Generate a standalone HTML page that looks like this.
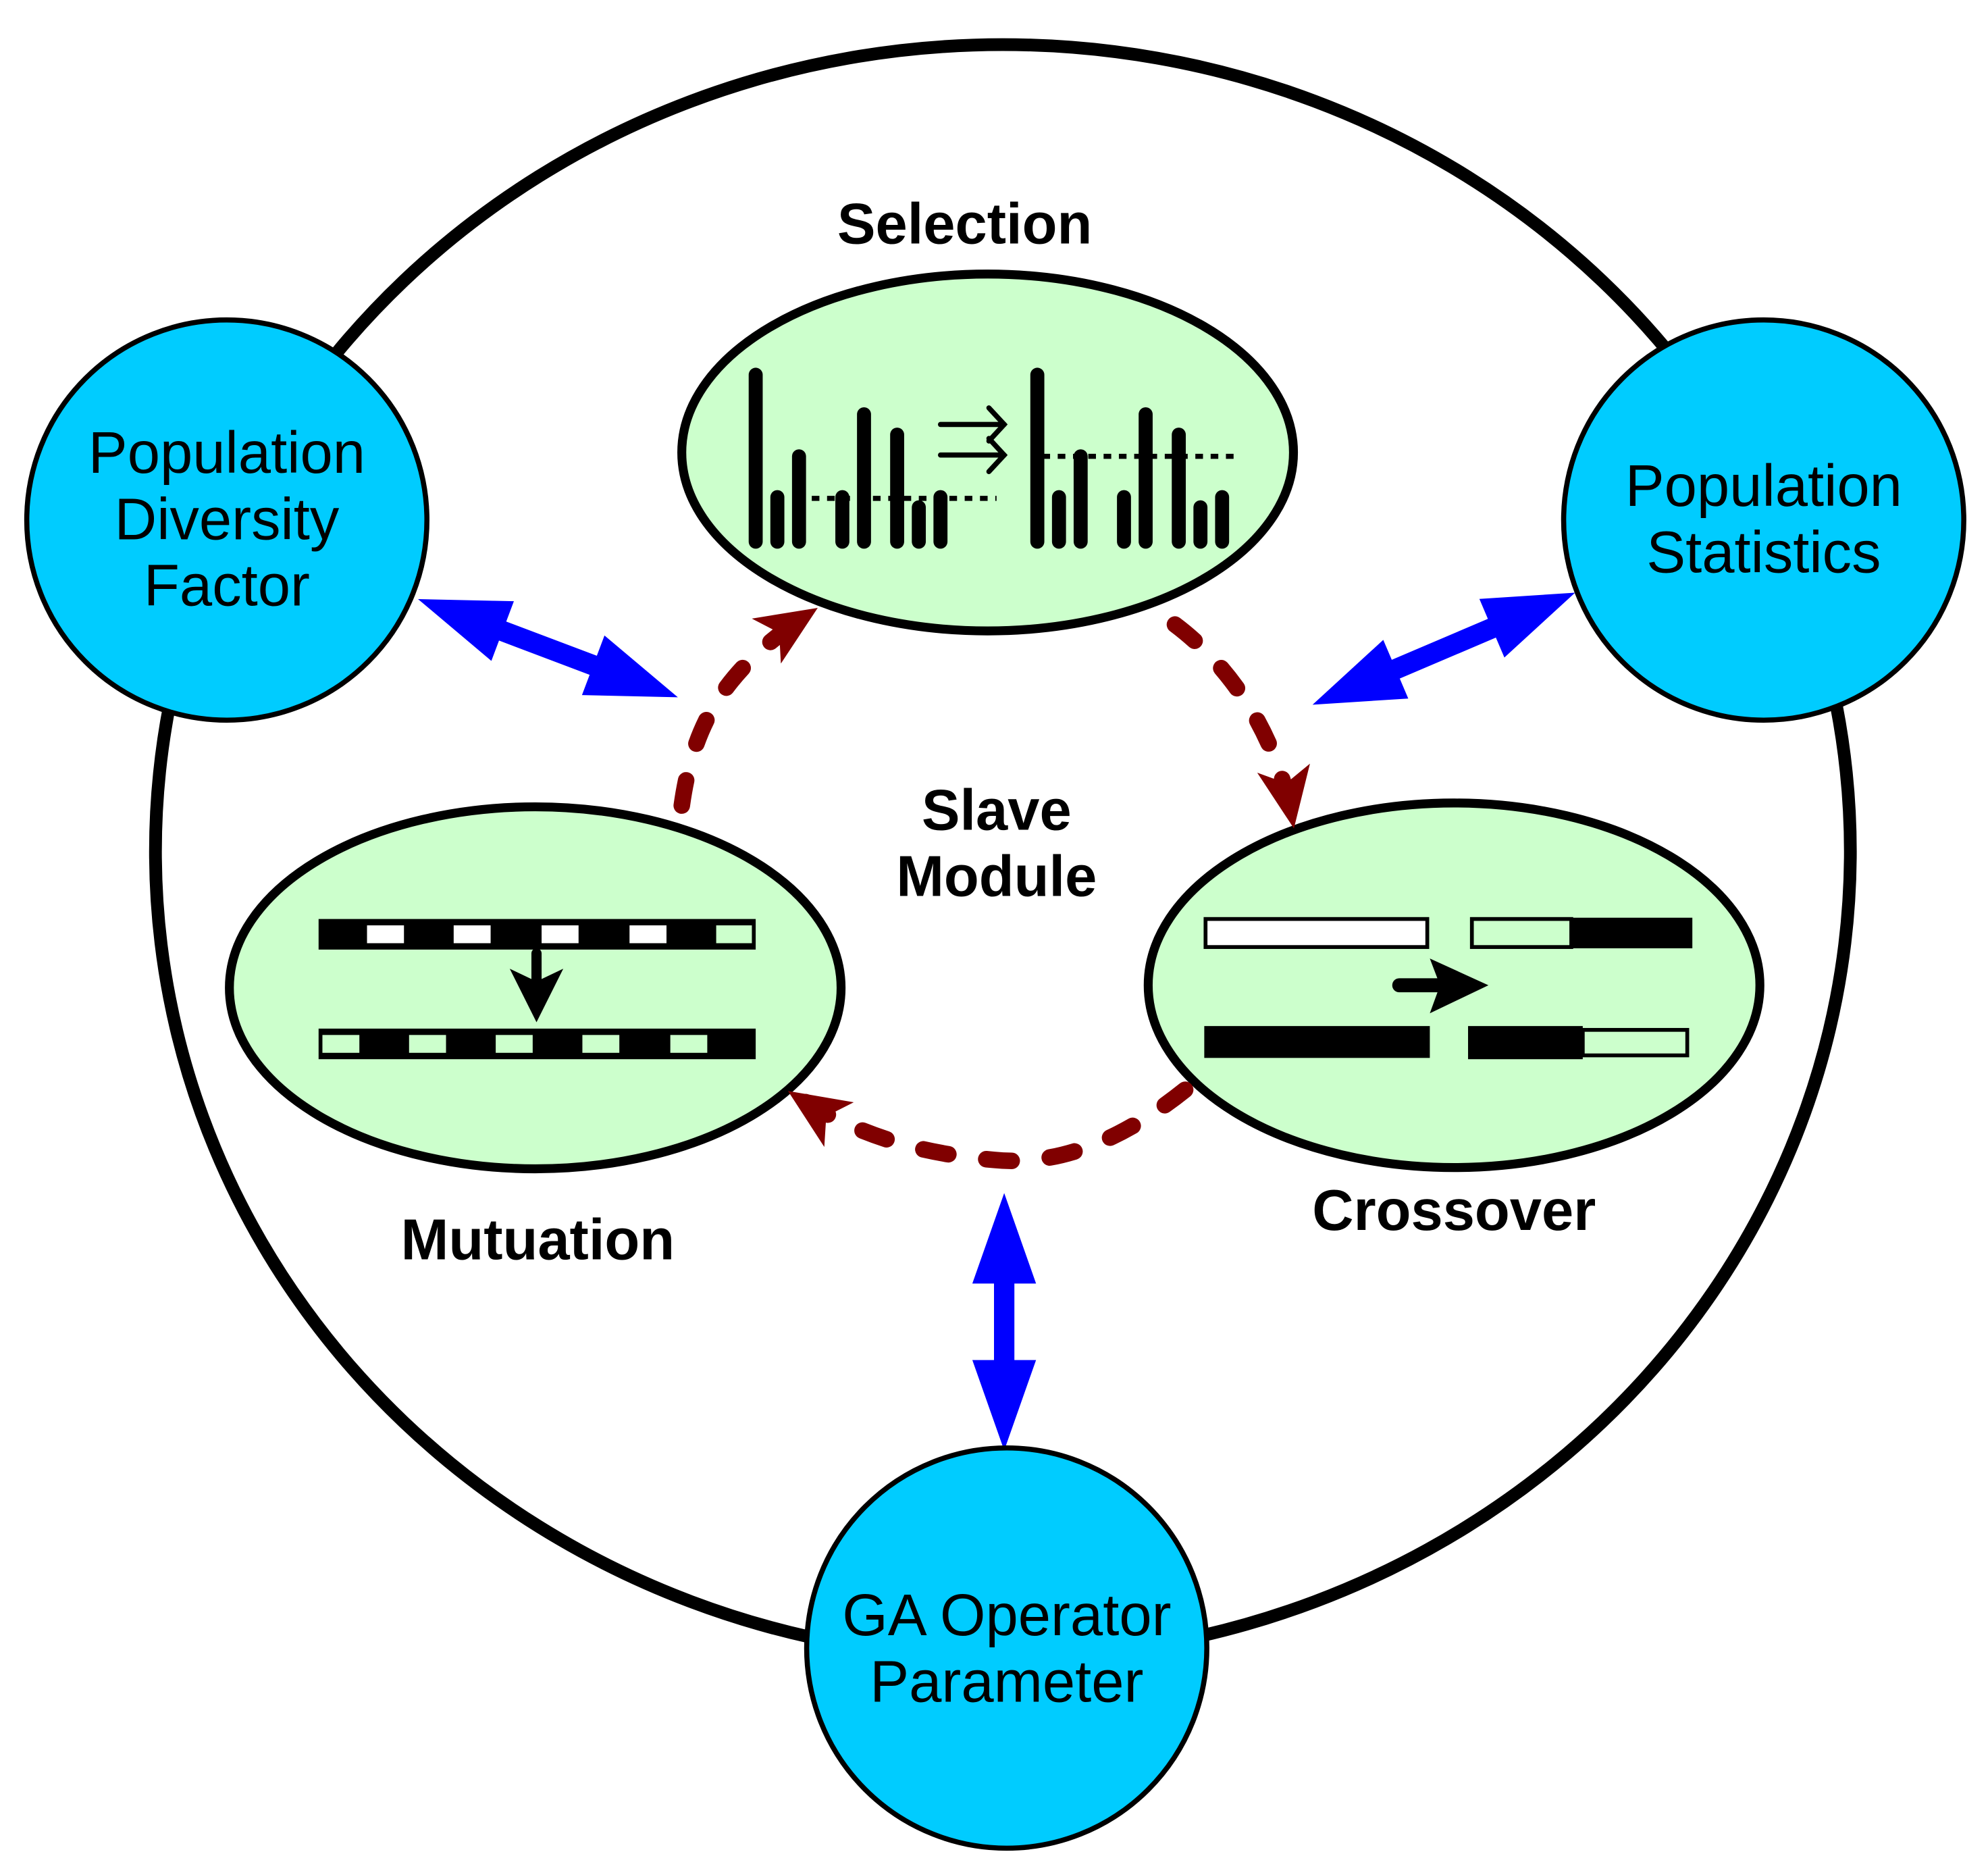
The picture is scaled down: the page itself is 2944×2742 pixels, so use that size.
<!DOCTYPE html>
<html><head><meta charset="utf-8"><style>
html,body{margin:0;padding:0;background:#fff;}
svg{display:block;}
text{font-family:"Liberation Sans",sans-serif;}
</style></head><body>
<svg width="2944" height="2742" viewBox="0 0 1560 1453" preserveAspectRatio="none" xmlns="http://www.w3.org/2000/svg">
<defs>
<marker id="rh" markerUnits="userSpaceOnUse" viewBox="0 -24 50 48" refX="46" refY="0" markerWidth="50" markerHeight="48" orient="auto">
<path d="M0,-21 L48,0 L0,21 L12,0 Z" fill="#800000"/>
</marker>
</defs>
<rect width="1560" height="1453" fill="#fff"/>
<ellipse cx="787" cy="668" rx="665" ry="633" fill="none" stroke="#000" stroke-width="10"/>

<g fill="#0000ff">
<polygon transform="translate(328,470) rotate(20.7)" points="0,0 71,-25 71,-8 147,-8 147,-25 218,0 147,25 147,8 71,8 71,25"/>
<polygon transform="translate(1236,465) rotate(156.9)" points="0,0 71,-25 71,-8 153,-8 153,-25 224,0 153,25 153,8 71,8 71,25"/>
<polygon transform="translate(788,936) rotate(90)" points="0,0 71,-25 71,-8 131,-8 131,-25 202,0 131,25 131,8 71,8 71,25"/>
</g>

<g fill="#00ccff" stroke="#000" stroke-width="4">
<circle cx="178" cy="408" r="157"/>
<circle cx="1384" cy="408" r="157"/>
<circle cx="790" cy="1293" r="157"/>
</g>
<g font-size="46" text-anchor="middle" fill="#000">
<text x="178" y="371">Population</text>
<text x="178" y="423">Diversity</text>
<text x="178" y="475">Factor</text>
<text x="1384" y="397">Population</text>
<text x="1384" y="449">Statistics</text>
<text x="790" y="1283">GA Operator</text>
<text x="790" y="1335">Parameter</text>
</g>

<g fill="#ccffcc" stroke="#000" stroke-width="7">
<ellipse cx="775" cy="355" rx="240" ry="140"/>
<ellipse cx="420" cy="775" rx="240" ry="142"/>
<ellipse cx="1141" cy="773" rx="240" ry="143"/>
</g>

<g fill="none" stroke="#800000" stroke-width="13" stroke-linecap="round" stroke-dasharray="20 30">
<path d="M535,632 C545,560 575,520 640,478" marker-end="url(#rh)"/>
<path d="M922,490 C962,520 1002,572 1015,648" marker-end="url(#rh)"/>
<path d="M930,855 C880,895 830,915 780,910 C720,905 670,890 620,857" marker-end="url(#rh)"/>
</g>

<g stroke="#000" stroke-width="11" stroke-linecap="round">
<line x1="593" y1="294" x2="593" y2="425"/>
<line x1="610" y1="390" x2="610" y2="425"/>
<line x1="627" y1="358" x2="627" y2="425"/>
<line x1="661" y1="390" x2="661" y2="425"/>
<line x1="678" y1="325" x2="678" y2="425"/>
<line x1="704" y1="341" x2="704" y2="425"/>
<line x1="721" y1="398" x2="721" y2="425"/>
<line x1="738" y1="390" x2="738" y2="425"/>
<line x1="814" y1="294" x2="814" y2="425"/>
<line x1="831" y1="390" x2="831" y2="425"/>
<line x1="848" y1="358" x2="848" y2="425"/>
<line x1="882" y1="390" x2="882" y2="425"/>
<line x1="899" y1="325" x2="899" y2="425"/>
<line x1="925" y1="341" x2="925" y2="425"/>
<line x1="942" y1="398" x2="942" y2="425"/>
<line x1="959" y1="390" x2="959" y2="425"/>
</g>
<g stroke="#000" stroke-width="4" stroke-dasharray="6 6">
<line x1="625" y1="391" x2="782" y2="391"/>
<line x1="818" y1="358" x2="972" y2="358"/>
</g>
<g stroke="#000" stroke-width="4" fill="none" stroke-linecap="round">
<line x1="738" y1="333" x2="788" y2="333"/><polyline points="776,320 788,333 776,346"/>
<line x1="738" y1="357" x2="788" y2="357"/><polyline points="776,344 788,357 776,370"/>
</g>

<rect x="250" y="721" width="343" height="24" fill="#000"/>
<g fill="#fff"><rect x="288" y="726" width="29" height="14"/><rect x="356" y="726" width="29" height="14"/><rect x="425" y="726" width="29" height="14"/><rect x="494" y="726" width="29" height="14"/></g>
<rect x="562" y="726" width="28" height="14" fill="#ccffcc"/>
<rect x="250" y="807" width="343" height="24" fill="#000"/>
<g fill="#ccffcc"><rect x="253" y="812" width="29" height="14"/><rect x="321" y="812" width="29" height="14"/><rect x="389" y="812" width="29" height="14"/><rect x="457" y="812" width="29" height="14"/><rect x="526" y="812" width="29" height="14"/></g>
<line x1="421" y1="748" x2="421" y2="770" stroke="#000" stroke-width="8" stroke-linecap="round"/>
<polygon points="400,760 421,770 442,760 421,802" fill="#000"/>

<rect x="946" y="721" width="174" height="22" fill="#fff" stroke="#000" stroke-width="3"/>
<rect x="1155" y="721" width="78" height="22" fill="#ccffcc" stroke="#000" stroke-width="3"/>
<rect x="1233" y="720" width="95" height="24" fill="#000"/>
<rect x="945" y="805" width="177" height="25" fill="#000"/>
<rect x="1152" y="805" width="90" height="26" fill="#000"/>
<rect x="1242" y="808" width="82" height="20" fill="#ccffcc" stroke="#000" stroke-width="3"/>
<line x1="1098" y1="773" x2="1130" y2="773" stroke="#000" stroke-width="11" stroke-linecap="round"/>
<polygon points="1122,752 1168,773 1122,795 1130,773" fill="#000"/>

<g font-size="45" font-weight="bold" text-anchor="middle" fill="#000">
<text x="757" y="191">Selection</text>
<text x="782" y="651">Slave</text>
<text x="782" y="703">Module</text>
<text x="422" y="988">Mutuation</text>
<text x="1141" y="965">Crossover</text>
</g>
</svg>
</body></html>
